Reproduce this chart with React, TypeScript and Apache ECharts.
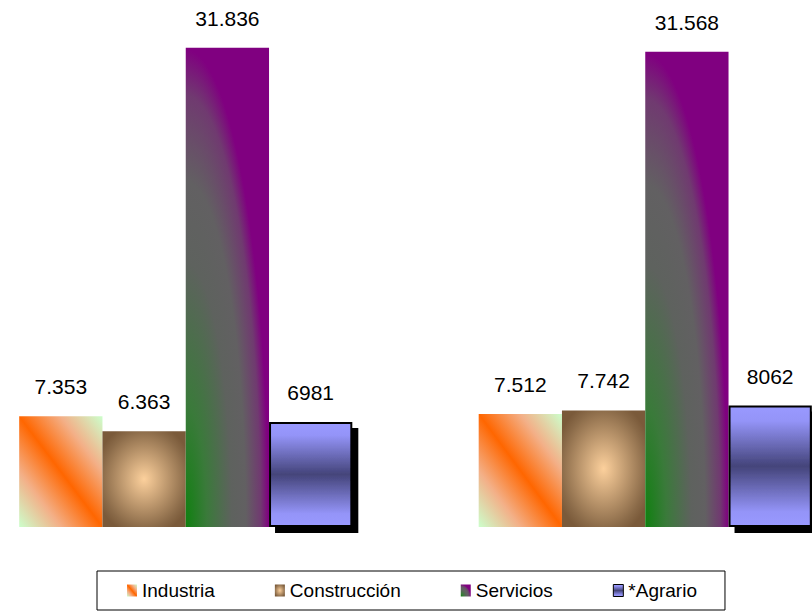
import React, { useEffect, useRef } from "react";
import * as echarts from "echarts";

const categories = ["Grupo 1", "Grupo 2"];
const seriesNames = ["Industria", "Construcción", "Servicios", "*Agrario"];
const industria = [7353, 7512];
const construccion = [6363, 7742];
const servicios = [31836, 31568];
const agrario = [6981, 8062];
const industriaLabels = ["7.353", "7.512"];
const construccionLabels = ["6.363", "7.742"];
const serviciosLabels = ["31.836", "31.568"];
const agrarioLabels = ["6981", "8062"];

const FONT = "'Liberation Sans', Arial, sans-serif";
const SHIFT_LEFT = 44;
const EXTRA_RIGHT = 63;

export default function App() {
  const ref = useRef<HTMLDivElement>(null);

  useEffect(() => {
    document.body.style.margin = "0";
    if (!ref.current) return;
    const chart = echarts.init(ref.current, undefined, { renderer: "svg" });

    const colIndustria = new echarts.graphic.LinearGradient(0, 1, 1, 0, [
      { offset: 0, color: "#ccffcc" },
      { offset: 0.25, color: "#f3b088" },
      { offset: 0.5, color: "#ff6600" },
      { offset: 0.75, color: "#f3b088" },
      { offset: 1, color: "#ccffcc" },
    ]);
    const colConstruccion = new echarts.graphic.RadialGradient(0.5, 0.5, 0.6, [
      { offset: 0, color: "#fcd09c" },
      { offset: 0.85, color: "#8a6a48" },
      { offset: 1, color: "#7a5a3a" },
    ]);
    const colServicios = new echarts.graphic.RadialGradient(0, 1, 1.2, [
      { offset: 0, color: "#108010" },
      { offset: 0.21, color: "#3a7a3a" },
      { offset: 0.46, color: "#5e625e" },
      { offset: 0.6, color: "#626062" },
      { offset: 0.75, color: "#703a70" },
      { offset: 0.83, color: "#800080" },
      { offset: 1, color: "#800080" },
    ]);
    const colAgrario = new echarts.graphic.LinearGradient(0, 0, 0, 1, [
      { offset: 0, color: "#9999ff" },
      { offset: 0.12, color: "#9494f8" },
      { offset: 0.5, color: "#44447a" },
      { offset: 0.88, color: "#9494f8" },
      { offset: 1, color: "#9999ff" },
    ]);

    const mk = (name: string, data: number[], labels: string[], itemStyle: any) => ({
      name,
      type: "bar",
      data,
      barGap: "0%",
      barCategoryGap: "27.5%",
      itemStyle,
      label: {
        show: true,
        position: "top",
        distance: 19,
        formatter: (p: any) => labels[p.dataIndex],
        fontFamily: FONT,
        fontSize: 21,
        color: "#000",
      },
    });

    chart.setOption({
      animation: false,
      grid: { left: 0, right: 0, top: -0.7, bottom: 84, containLabel: false },
      xAxis: {
        type: "category",
        data: categories,
        show: false,
      },
      yAxis: {
        type: "value",
        min: 0,
        max: 35000,
        show: false,
        splitLine: { show: false },
      },
      legend: {
        left: 97 + SHIFT_LEFT,
        top: 571,
        orient: "horizontal",
        padding: [10, 28, 10, 30],
        itemGap: 60,
        itemWidth: 10,
        itemHeight: 12,
        icon: "rect",
        borderColor: "#000",
        borderWidth: 1,
        textStyle: { fontFamily: FONT, fontSize: 19, color: "#000" },
        data: [
          { name: seriesNames[0] },
          { name: seriesNames[1] },
          { name: seriesNames[2] },
          {
            name: seriesNames[3],
            itemStyle: { borderColor: "#000", borderWidth: 1, shadowBlur: 0, shadowOffsetX: 0, shadowOffsetY: 0, shadowColor: "rgba(0,0,0,0)" },
          },
        ],
      },
      series: [
        mk(seriesNames[0], industria, industriaLabels, { color: colIndustria }),
        mk(seriesNames[1], construccion, construccionLabels, { color: colConstruccion }),
        mk(seriesNames[2], servicios, serviciosLabels, { color: colServicios }),
        mk(seriesNames[3], agrario, agrarioLabels, {
          color: colAgrario,
          borderColor: "#000",
          borderWidth: 2,
          shadowColor: "#000",
          shadowBlur: 0,
          shadowOffsetX: 6,
          shadowOffsetY: 6,
        }),
      ],
    });

    return () => chart.dispose();
  }, []);

  return (
    <div
      style={{ position: "absolute", left: 0, top: 0, width: 812, height: 611, overflow: "hidden", background: "#fff" }}
    >
      <div
        ref={ref}
        style={{ position: "absolute", left: -SHIFT_LEFT, top: 0, width: 812 + SHIFT_LEFT + EXTRA_RIGHT, height: 611 }}
      />
    </div>
  );
}
